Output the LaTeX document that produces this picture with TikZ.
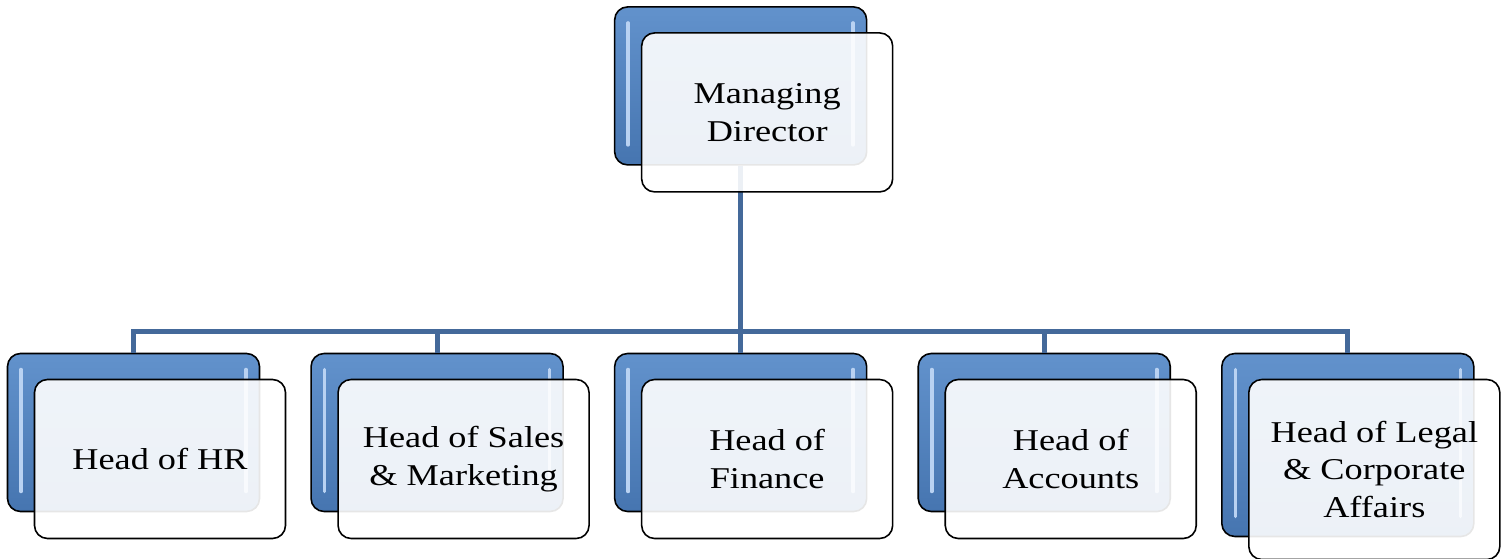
\documentclass[tikz,border=0pt]{standalone}
\usepackage{fontspec}
\setmainfont{Liberation Serif}[FakeStretch=1.2]
\usepackage{xcolor}
\usepackage{tikz}
\usetikzlibrary{positioning}

\definecolor{boxblue}{RGB}{79,129,189}
\definecolor{boxbluetop}{RGB}{98,146,204}
\definecolor{boxbluebot}{RGB}{70,117,176}
\definecolor{glint}{RGB}{185,210,242}
\definecolor{linkblue}{RGB}{68,105,154}

\begin{document}
\begin{tikzpicture}[node distance=1cm, every node/.style={font=\fontsize{17.2}{21.6}\selectfont}]
    \tikzstyle{backbox} = [rectangle, rounded corners=0.26cm, draw=black, line width=0.9pt, top color=boxbluetop, bottom color=boxbluebot, minimum width=5.04cm, minimum height=3.16cm, inner sep=0pt,
        path picture={
            \draw[glint, line width=0.07cm, line cap=round] ([shift={(0.27,-0.32)}]path picture bounding box.north west) -- ([shift={(0.27,0.4)}]path picture bounding box.south west);
            \draw[glint, line width=0.07cm, line cap=round] ([shift={(-0.27,-0.32)}]path picture bounding box.north east) -- ([shift={(-0.27,0.4)}]path picture bounding box.south east);
        }]
    \tikzstyle{frontbox} = [rectangle, rounded corners=0.26cm, draw=black, line width=0.9pt, fill=white, fill opacity=0.9, text opacity=1, minimum width=5.02cm, minimum height=3.18cm, inner sep=0pt, align=center, anchor=north west]
    \tikzstyle{link} = [draw=linkblue, line width=0.1cm]

    \useasboundingbox (0,0) rectangle (30.1,-11.18);

    % back cards
    \node[backbox] (hrback) at (2.67,-8.65) {};
    \node[backbox, right=of hrback] (salback) {};
    \node[backbox, right=of salback] (finback) {};
    \node[backbox, right=of finback] (accback) {};
    \node[backbox, minimum height=3.66cm, right=of accback.north east, anchor=north west] (legback) {};
    \node[backbox, above=3.74cm of finback] (mdback) {};

    % connectors
    \draw[link] (mdback.south) -- ++(0,-3.31) coordinate (bus);
    \foreach \b in {hrback, salback, finback, accback, legback}
        \draw[link] (bus) -| (\b.north);

    % front cards
    \node[frontbox] (md) at ([shift={(0.54,-0.52)}]mdback.north west) {Managing\\Director};
    \node[frontbox] (hr) at ([shift={(0.54,-0.52)}]hrback.north west) {Head of HR};
    \node[frontbox] (sal) at ([shift={(0.54,-0.52)}]salback.north west) {Head of Sales\\\& Marketing};
    \node[frontbox] (fin) at ([shift={(0.54,-0.52)}]finback.north west) {Head of\\Finance};
    \node[frontbox] (acc) at ([shift={(0.54,-0.52)}]accback.north west) {Head of\\Accounts};
    \node[frontbox, minimum height=3.6cm] (leg) at ([shift={(0.54,-0.52)}]legback.north west) {Head of Legal\\\& Corporate\\Affairs};
\end{tikzpicture}
\end{document}
